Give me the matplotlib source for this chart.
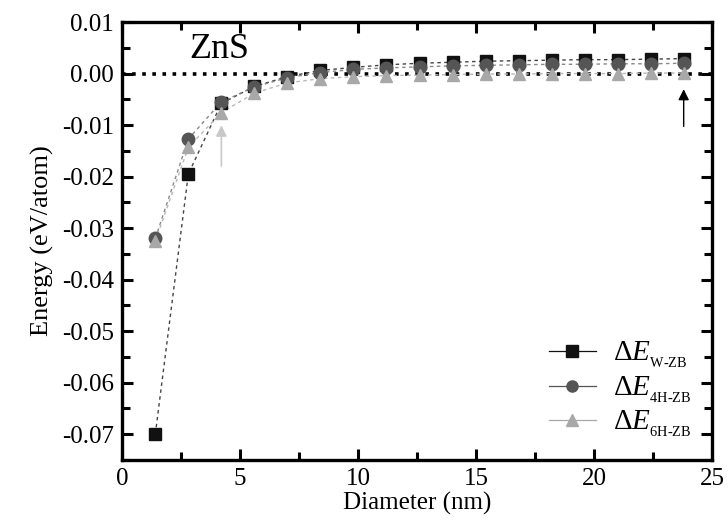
import numpy as np
import matplotlib.pyplot as plt
import matplotlib as mpl

mpl.rcParams['font.family'] = 'Liberation Serif'
mpl.rcParams['mathtext.fontset'] = 'custom'
mpl.rcParams['mathtext.rm'] = 'Liberation Serif'
mpl.rcParams['mathtext.it'] = 'Liberation Serif:italic'

# nanowire diameters (nm) and relative energies (eV/atom)
diameter = [1.4, 2.8, 4.2, 5.6, 7.0, 8.4, 9.8, 11.2, 12.6, 14.0,
            15.4, 16.8, 18.2, 19.6, 21.0, 22.4, 23.8]
dE_w = [-0.0700, -0.0195, -0.0058, -0.0025, -0.0006, 0.0006, 0.0012, 0.0017,
        0.0020, 0.0022, 0.0024, 0.0025, 0.0026, 0.0027, 0.0027, 0.0028, 0.0029]
dE_4h = [-0.0320, -0.0127, -0.0055, -0.0026, -0.0008, 0.0002, 0.0008, 0.0011,
         0.0013, 0.0015, 0.0016, 0.0017, 0.0018, 0.0018, 0.0019, 0.0019, 0.0020]
dE_6h = [-0.0325, -0.0143, -0.0076, -0.0038, -0.0018, -0.0010, -0.0006, -0.0004,
         -0.0003, -0.0002, -0.0001, -0.0001, 0.0000, 0.0000, 0.0000, 0.0001, 0.0001]

series = [
    (dE_w, 's', '#111111', '#444444', r'$\Delta E_{_{\mathrm{W\text{-}ZB}}}$'),
    (dE_4h, 'o', '#555555', '#888888', r'$\Delta E_{_{\mathrm{4H\text{-}ZB}}}$'),
    (dE_6h, '^', '#a8a8a8', '#b8b8b8', r'$\Delta E_{_{\mathrm{6H\text{-}ZB}}}$'),
]

fig = plt.figure(figsize=(7.28, 5.25), dpi=100)
ax = fig.add_axes([0.168, 0.124, 0.810, 0.834])

ax.axhline(0, color='black', lw=2.6, ls=(0, (1.0, 1.8)), zorder=1)

for vals, mk, col, lcol, lab in series:
    ax.plot(diameter, vals, ls=(0, (2.5, 2.5)), lw=1.0, color=lcol, zorder=2)
    ax.plot(diameter, vals, ls='none', marker=mk, ms=9, color=col, zorder=3)
    # legend handle: thin solid line with marker
    ax.plot([], [], ls='-', lw=0.9, marker=mk, ms=8, color=col, label=lab)

# arrows marking the crossover sizes
ax.annotate('', xy=(4.2, -0.0095), xytext=(4.2, -0.0185),
            arrowprops=dict(arrowstyle='-|>', color='#c8c8c8', lw=1.2,
                            mutation_scale=16))
ax.annotate('', xy=(23.8, -0.0025), xytext=(23.8, -0.0108),
            arrowprops=dict(arrowstyle='-|>', color='black', lw=1.0,
                            mutation_scale=16))

ax.text(4.1, 0.0047, 'ZnS', fontsize=26, ha='center', va='center')

ax.set_xlim(0, 25)
ax.set_ylim(-0.075, 0.01)
ax.set_xticks([0, 5, 10, 15, 20, 25])
ax.set_xticks(np.arange(2.5, 25, 5), minor=True)
yt = np.arange(-0.07, 0.0101, 0.01)
ax.set_yticks(yt)
ax.set_yticklabels(['%.2f' % v if abs(v) > 1e-9 else '0.00' for v in yt])
ax.set_yticks(np.arange(-0.075, 0.01, 0.01), minor=True)

for s in ax.spines.values():
    s.set_linewidth(2.4)
ax.tick_params(which='both', direction='in', top=True, right=True,
               labelsize=18, width=2.2)
ax.tick_params(axis='x', pad=6)
ax.tick_params(axis='y', pad=6)
ax.tick_params(which='major', length=8)
ax.tick_params(which='minor', length=6)

ax.set_xlabel('Diameter (nm)', fontsize=18, labelpad=1)
ax.set_ylabel('Energy (eV/atom)', fontsize=19, labelpad=6)

ax.legend(loc='lower right', frameon=False, fontsize=21, handlelength=1.6,
          labelspacing=0.15, borderaxespad=0.3, handletextpad=0.6)

fig.savefig('out.png', dpi=100)
